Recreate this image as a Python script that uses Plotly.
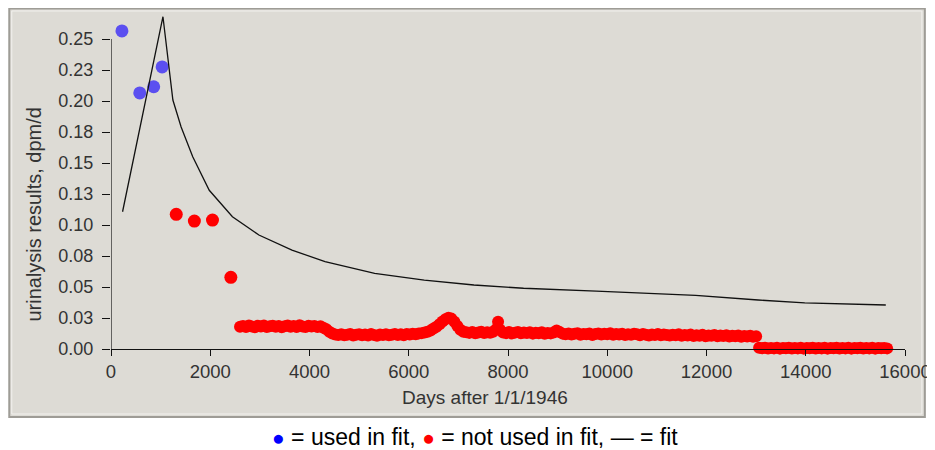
import plotly.graph_objects as go

# ---------------- data ----------------
used_days = [220, 580, 860, 1030]
used_vals = [0.2565, 0.2065, 0.2115, 0.2275]

early_days = [1315, 1680, 2045, 2415]
early_vals = [0.1086, 0.1032, 0.1040, 0.0578]

band_a = [(2600, 0.0180), (2660, 0.0186), (2720, 0.0178), (2780, 0.0189), (2840, 0.0182),
          (2900, 0.0176), (2960, 0.0187), (3020, 0.0181), (3080, 0.0190), (3140, 0.0177),
          (3200, 0.0184), (3260, 0.0188), (3320, 0.0179), (3380, 0.0185), (3440, 0.0176),
          (3500, 0.0183), (3560, 0.0189), (3620, 0.0180), (3680, 0.0186), (3740, 0.0178),
          (3800, 0.0191), (3860, 0.0182), (3920, 0.0177), (3980, 0.0187), (4040, 0.0181),
          (4100, 0.0185), (4160, 0.0178), (4220, 0.0183), (4280, 0.0172), (4340, 0.0160)]
band_b = [(4400, 0.0140), (4460, 0.0125), (4520, 0.0116), (4580, 0.0112), (4640, 0.0119),
          (4700, 0.0110), (4760, 0.0115), (4820, 0.0121), (4880, 0.0108), (4940, 0.0114),
          (5000, 0.0118), (5060, 0.0111), (5120, 0.0117), (5180, 0.0109), (5240, 0.0120),
          (5300, 0.0113), (5360, 0.0107), (5420, 0.0116), (5480, 0.0112), (5540, 0.0119),
          (5600, 0.0110), (5660, 0.0115), (5720, 0.0121), (5780, 0.0113), (5840, 0.0118),
          (5900, 0.0111), (5960, 0.0120), (6020, 0.0116), (6080, 0.0122), (6140, 0.0118),
          (6200, 0.0125), (6260, 0.0128), (6320, 0.0133)]
band_peak = [(6380, 0.0140), (6440, 0.0150), (6500, 0.0165), (6560, 0.0180), (6620, 0.0200),
             (6680, 0.0222), (6740, 0.0240), (6800, 0.0252), (6860, 0.0245), (6920, 0.0220),
             (6980, 0.0185), (7040, 0.0155), (7100, 0.0140)]
band_c = [(7160, 0.0135), (7220, 0.0130), (7280, 0.0138), (7340, 0.0127), (7400, 0.0134),
          (7460, 0.0140), (7520, 0.0129), (7580, 0.0136), (7640, 0.0131), (7700, 0.0139),
          (7760, 0.0160), (7800, 0.0220), (7840, 0.0155), (7900, 0.0133), (7960, 0.0128),
          (8020, 0.0137), (8080, 0.0126), (8140, 0.0132), (8200, 0.0138), (8260, 0.0127),
          (8320, 0.0134), (8380, 0.0129), (8440, 0.0136), (8500, 0.0124), (8560, 0.0131),
          (8620, 0.0127), (8680, 0.0135), (8740, 0.0122), (8800, 0.0130), (8860, 0.0126),
          (8920, 0.0133)]
band_d = [(8980, 0.0150), (9040, 0.0138), (9100, 0.0124), (9160, 0.0119), (9220, 0.0126),
          (9280, 0.0117), (9340, 0.0122), (9400, 0.0128), (9460, 0.0115), (9520, 0.0121),
          (9580, 0.0118), (9640, 0.0125), (9700, 0.0113), (9760, 0.0120), (9820, 0.0126),
          (9880, 0.0116), (9940, 0.0122), (10000, 0.0119), (10060, 0.0127), (10120, 0.0114),
          (10180, 0.0120), (10240, 0.0117), (10300, 0.0124), (10360, 0.0112), (10420, 0.0119),
          (10480, 0.0115), (10540, 0.0122), (10600, 0.0118), (10660, 0.0111), (10720, 0.0120),
          (10780, 0.0114), (10840, 0.0109), (10900, 0.0117), (10960, 0.0113), (11020, 0.0120),
          (11080, 0.0110), (11140, 0.0116), (11200, 0.0112), (11260, 0.0108), (11320, 0.0115),
          (11380, 0.0111), (11440, 0.0118), (11500, 0.0107), (11560, 0.0113), (11620, 0.0109),
          (11680, 0.0116), (11740, 0.0105), (11800, 0.0111), (11860, 0.0107), (11920, 0.0114),
          (11980, 0.0103), (12040, 0.0109), (12100, 0.0106), (12160, 0.0112), (12220, 0.0102),
          (12280, 0.0108), (12340, 0.0104), (12400, 0.0110), (12460, 0.0100), (12520, 0.0106),
          (12580, 0.0102), (12640, 0.0108), (12700, 0.0098), (12760, 0.0104), (12820, 0.0100),
          (12880, 0.0106), (12940, 0.0099), (13000, 0.0103)]
band_e = [(13060, 0.0010), (13120, 0.0006), (13180, 0.0011), (13240, 0.0004), (13300, 0.0009),
          (13360, 0.0005), (13420, 0.0010), (13480, 0.0003), (13540, 0.0008), (13600, 0.0006),
          (13660, 0.0011), (13720, 0.0004), (13780, 0.0009), (13840, 0.0005), (13900, 0.0010),
          (13960, 0.0003), (14020, 0.0008), (14080, 0.0006), (14140, 0.0011), (14200, 0.0004),
          (14260, 0.0009), (14320, 0.0005), (14380, 0.0010), (14440, 0.0003), (14500, 0.0008),
          (14560, 0.0006), (14620, 0.0011), (14680, 0.0004), (14740, 0.0009), (14800, 0.0005),
          (14860, 0.0010), (14920, 0.0003), (14980, 0.0008), (15040, 0.0006), (15100, 0.0011),
          (15160, 0.0004), (15220, 0.0009), (15280, 0.0005), (15340, 0.0010), (15400, 0.0003),
          (15460, 0.0008), (15520, 0.0006), (15580, 0.0009), (15640, 0.0005)]

fit_days = [233, 1047, 1247, 1413, 1647, 1980, 2447, 2980, 3647, 4313, 5313, 6313, 7313, 8313,
            9780, 11780, 13040, 13980, 15613]
fit_vals = [0.1107, 0.2680, 0.2008, 0.1790, 0.1550, 0.1280, 0.1067, 0.0919, 0.0798, 0.0704,
            0.0610, 0.0556, 0.0516, 0.0490, 0.0466, 0.0432, 0.0395, 0.0372, 0.0355]

x_ticks = [0, 2000, 4000, 6000, 8000, 10000, 12000, 14000, 16000]
y_ticks = [0, 0.025, 0.05, 0.075, 0.1, 0.125, 0.15, 0.175, 0.2, 0.225, 0.25]
y_tick_labels = ["0.00", "0.03", "0.05", "0.08", "0.10", "0.13", "0.15", "0.18", "0.20", "0.23", "0.25"]

x_title = "Days after 1/1/1946"
y_title = "urinalysis results, dpm/d"

FONT = "Liberation Sans, Arial, sans-serif"
RED = "#ff0000"
BLUE = "#5b4ff0"

band = band_a + band_b + band_peak + band_c + band_d + band_e
band_days = [d for d, v in band]
band_vals = [v for d, v in band]

# ---------------- figure ----------------
fig = go.Figure()

fig.add_trace(go.Scatter(x=band_days, y=band_vals, mode="markers",
                         marker=dict(color=RED, size=12, line=dict(width=0)),
                         cliponaxis=False, showlegend=False))
fig.add_trace(go.Scatter(x=early_days, y=early_vals, mode="markers",
                         marker=dict(color=RED, size=13, line=dict(width=0)),
                         cliponaxis=False, showlegend=False))
fig.add_trace(go.Scatter(x=used_days, y=used_vals, mode="markers",
                         marker=dict(color=BLUE, size=13, line=dict(width=0)),
                         cliponaxis=False, showlegend=False))
fig.add_trace(go.Scatter(x=fit_days, y=fit_vals, mode="lines",
                         line=dict(color="#111111", width=1.3),
                         showlegend=False))

# page is offset by the 8px body margin; geometry below is in figure pixels
W, H = 927, 442
L, R, T, B = 103, 903, 4, 341
def px(xp):
    return (xp - L) / (R - L)
def py(yp):
    return (B - yp) / (B - T)

shapes = [
    dict(type="rect", xref="paper", yref="paper",
         x0=px(0.5), x1=px(923), y0=py(409), y1=py(0.5),
         fillcolor="#dddbd5", line=dict(color="#9e9c96", width=2), layer="below"),
    dict(type="rect", xref="paper", yref="paper",
         x0=px(3), x1=px(920), y0=py(406), y1=py(3),
         fillcolor="rgba(0,0,0,0)", line=dict(color="#f2f1ee", width=1), layer="below"),
    dict(type="line", xref="x", yref="y", x0=0, x1=0, y0=0, y1=y_ticks[-1],
         line=dict(color="#111111", width=1.2)),
]

annotations = [
    dict(text=x_title, xref="paper", yref="paper", x=px(480), y=py(389),
         xanchor="center", yanchor="middle", showarrow=False,
         font=dict(family=FONT, size=19, color="#333333")),
    dict(text=y_title, xref="paper", yref="paper", x=px(25), y=py(206),
         xanchor="center", yanchor="middle", showarrow=False, textangle=-90,
         font=dict(family=FONT, size=20, color="#333333")),
    dict(text=("<span style='color:#0000ff;font-size:21px'>●</span> = used in fit, "
               "<span style='color:#ff0000;font-size:21px'>●</span> = not used in fit, — = fit"),
         xref="paper", yref="paper", x=px(470), y=py(429),
         xanchor="center", yanchor="middle", showarrow=False,
         font=dict(family=FONT, size=23, color="#000000")),
]

fig.update_layout(
    width=W, height=H,
    margin=dict(l=L, r=W - R, t=T, b=H - B),
    paper_bgcolor="white",
    plot_bgcolor="rgba(0,0,0,0)",
    shapes=shapes,
    annotations=annotations,
    font=dict(family=FONT, size=18, color="#333333"),
)

fig.update_xaxes(range=[0, 16000], tickvals=x_ticks, ticktext=[str(v) for v in x_ticks],
                 showline=True, linecolor="#111111", linewidth=1.2,
                 ticks="outside", ticklen=6, tickcolor="#111111", tickwidth=1.2,
                 ticklabeloverflow="allow",
                 showgrid=False, zeroline=False,
                 tickfont=dict(family=FONT, size=18.5, color="#333333"))
fig.update_yaxes(range=[0, 0.2718], tickvals=y_ticks, ticktext=y_tick_labels,
                 showline=False, ticks="outside", ticklen=8, tickcolor="#111111", tickwidth=1.2,
                 ticklabelstandoff=5,
                 showgrid=False, zeroline=False,
                 tickfont=dict(family=FONT, size=18, color="#333333"))

fig.write_html("out.html")
